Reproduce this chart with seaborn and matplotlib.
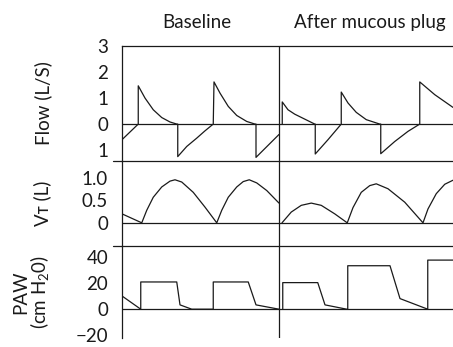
import matplotlib
matplotlib.use("Agg")
import matplotlib.pyplot as plt
import seaborn as sns

# time in seconds; the two recordings are pasted side by side
t_split = 6.28
t_end = 13.24

# Flow (L/s)
flow_base_t = [0.00, 0.65, 0.65, 0.92, 1.25, 1.59, 1.92, 2.19, 2.23, 2.23, 2.59, 2.99,
               3.32, 3.65, 3.68, 3.92, 4.25, 4.59, 4.99, 5.32, 5.36, 5.36, 6.28]
flow_base = [-0.60, 0.0, 1.47, 1.00, 0.55, 0.25, 0.08, 0.0, 0.0, -1.25, -0.86, -0.54,
             -0.26, 0.0, 1.62, 1.19, 0.68, 0.33, 0.10, 0.0, 0.0, -1.28, -0.40]
flow_after_t = [6.41, 6.41, 6.64, 6.91, 7.31, 7.71, 7.73, 7.73, 8.24, 8.77, 8.77,
                9.04, 9.37, 9.77, 10.31, 10.35, 10.35, 10.91, 11.44, 11.91, 11.91,
                12.51, 13.24]
flow_after = [0.0, 0.85, 0.55, 0.38, 0.19, 0.0, 0.0, -1.15, -0.60, 0.0, 1.23,
              0.81, 0.45, 0.17, 0.0, 0.0, -1.14, -0.67, -0.28, 0.0, 1.62,
              1.13, 0.64]

# Tidal volume (L)
vt_base_t = [0.00, 0.79, 0.99, 1.25, 1.59, 1.92, 2.12, 2.39, 2.85, 3.32, 3.79,
             3.99, 4.25, 4.59, 4.85, 5.09, 5.39, 5.79, 6.28]
vt_base = [0.20, 0.0, 0.28, 0.57, 0.80, 0.93, 0.96, 0.91, 0.68, 0.35, 0.0,
           0.28, 0.57, 0.80, 0.92, 0.96, 0.89, 0.72, 0.44]
vt_after_t = [6.40, 6.77, 7.17, 7.57, 7.97, 8.51, 9.01, 9.24, 9.57, 9.91, 10.17,
              10.64, 11.31, 12.04, 12.24, 12.57, 12.91, 13.24]
vt_after = [0.0, 0.24, 0.39, 0.44, 0.39, 0.20, 0.0, 0.34, 0.68, 0.83, 0.87,
            0.76, 0.46, 0.0, 0.31, 0.65, 0.86, 0.95]

# Airway pressure (cm H2O)
paw_base_t = [0.00, 0.75, 0.75, 2.19, 2.32, 2.79, 3.65, 3.65, 5.05, 5.36, 6.28]
paw_base = [10.1, 0.0, 20.8, 20.8, 3.3, 0.0, 0.0, 20.8, 20.8, 3.3, 0.0]
paw_after_t = [6.43, 6.43, 7.83, 8.12, 8.99, 9.03, 9.03, 10.72, 11.12, 12.23, 12.23, 13.24]
paw_after = [0.0, 20.3, 20.3, 3.3, 0.0, 0.0, 33.2, 33.2, 8.1, 0.0, 37.5, 37.5]

flow_ticks = [-1, 0, 1, 2, 3]
flow_labels = ['1', '0', '1', '2', '3']
vt_ticks = [0, 0.5, 1.0]
vt_labels = ['0', '0.5', '1.0']
paw_ticks = [-20, 0, 20, 40]
paw_labels = ['\u221220', '0', '20', '40']

sns.set_style("white")
plt.rcParams['font.family'] = ['Lato', 'DejaVu Sans']
plt.rcParams['mathtext.fontset'] = 'custom'
plt.rcParams['mathtext.rm'] = 'Lato'

ink = '#1a1a1a'
lw = 0.9
fs = 13.5

W, H = 453, 347
fig = plt.figure(figsize=(W / 100, H / 100), dpi=100)
x0 = 122
rows = [(46, 160.5), (160.5, 245.7), (245.7, 338)]
axes = []
for top, bot in rows:
    ax = fig.add_axes([x0 / W, 1 - bot / H, 1 - x0 / W, (bot - top) / H])
    axes.append(ax)

panels = [
    (flow_base_t, flow_base, flow_after_t, flow_after, (-1.4, 3.0), flow_ticks, flow_labels),
    (vt_base_t, vt_base, vt_after_t, vt_after, (-0.51, 1.39), vt_ticks, vt_labels),
    (paw_base_t, paw_base, paw_after_t, paw_after, (-22, 48.5), paw_ticks, paw_labels),
]

for ax, (bt, bv, at, av, ylim, ticks, labels) in zip(axes, panels):
    sns.lineplot(x=bt, y=bv, ax=ax, sort=False, estimator=None, color=ink, lw=lw)
    sns.lineplot(x=at, y=av, ax=ax, sort=False, estimator=None, color=ink, lw=lw)
    ax.axhline(0, color=ink, lw=lw)
    ax.axvline(t_split, color=ink, lw=lw)
    ax.set_xlim(0, t_end)
    ax.set_ylim(*ylim)
    ax.set_xticks([])
    ax.set_yticks(ticks)
    ax.set_yticklabels(labels)
    ax.tick_params(axis='y', length=0, pad=10, labelsize=fs, labelcolor=ink)
    for side in ['right', 'bottom']:
        ax.spines[side].set_visible(False)
    for side in ['top', 'left']:
        ax.spines[side].set_color(ink)
        ax.spines[side].set_linewidth(lw)

# separators between panels reach a bit past the axis line
for ax in axes[1:]:
    ax.plot([-9 / 331, 0], [1, 1], transform=ax.transAxes, clip_on=False, color=ink, lw=lw)

axes[0].text((43 - x0) / 331, 0.5, 'Flow (L/S)', transform=axes[0].transAxes,
             rotation=90, ha='center', va='center', fontsize=fs, color=ink)
axes[1].text((42 - x0) / 331, 0.5, 'V\u1d1b (L)', transform=axes[1].transAxes,
             rotation=90, ha='center', va='center', fontsize=fs, color=ink)
axes[2].text((32 - x0) / 331, 0.5, 'PAW\n(cm H$_2$0)', transform=axes[2].transAxes,
             rotation=90, ha='center', va='center', fontsize=fs, color=ink,
             linespacing=0.95, multialignment='center')

fig.text(197.3 / W, 1 - 28.3 / H, 'Baseline', ha='center', va='baseline',
         fontsize=fs, color=ink)
fig.text(294.3 / W, 1 - 28.3 / H, 'After mucous plug', ha='left', va='baseline',
         fontsize=fs, color=ink)

fig.savefig('out.png', dpi=100)
